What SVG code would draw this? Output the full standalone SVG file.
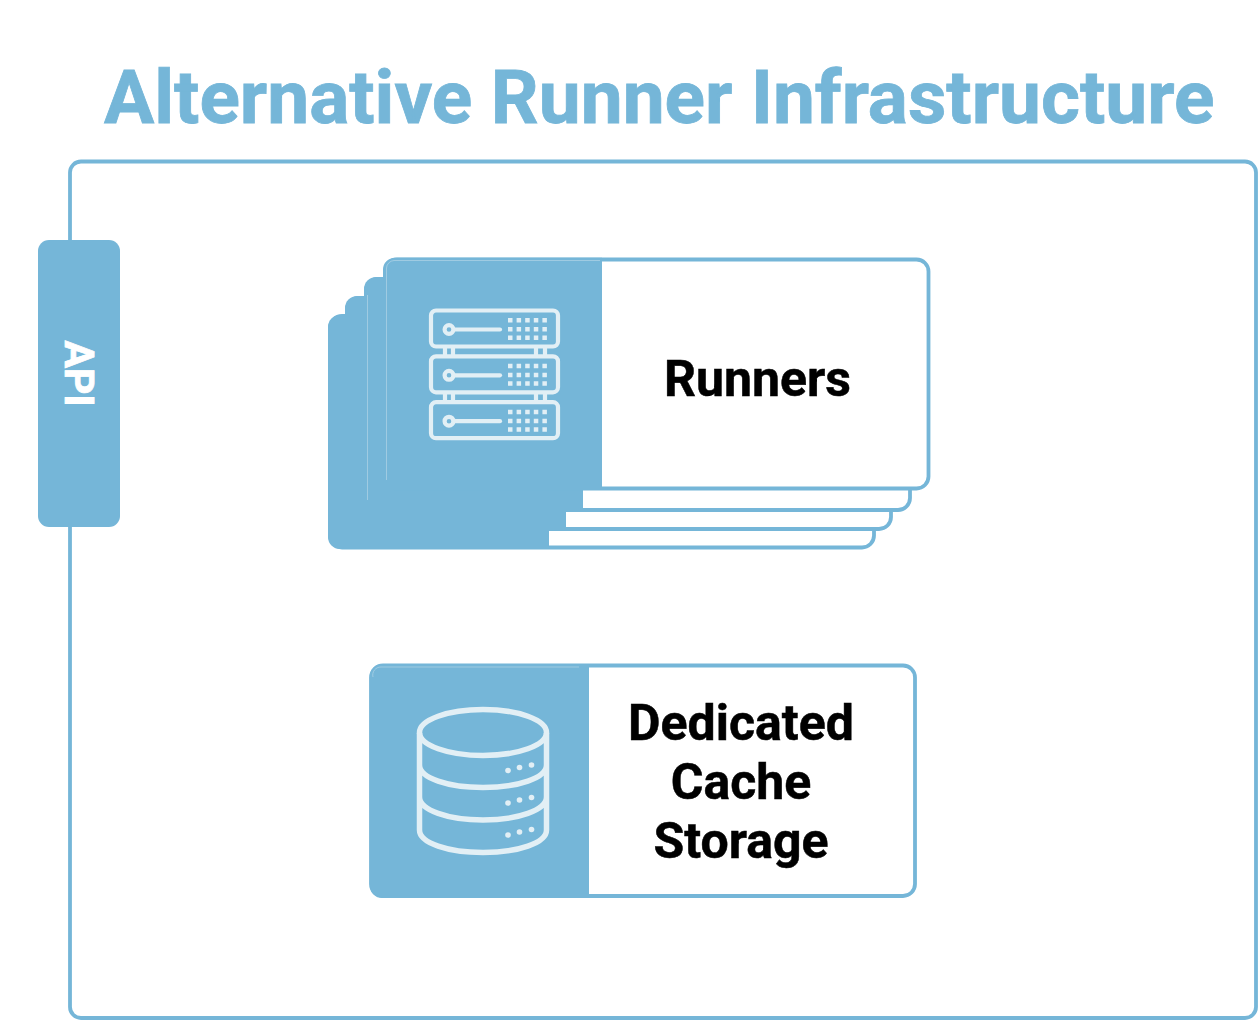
<svg xmlns="http://www.w3.org/2000/svg" width="1258" height="1020" viewBox="0 0 1258 1020">
<style>
.t{font-family:Roboto,"Liberation Sans",sans-serif;font-weight:700}
.lbl{font-size:50px;fill:#000;text-anchor:middle;stroke:#000;stroke-width:.5}
.blue{fill:#75b6d8}
.card{fill:#fff;stroke:#75b6d8;stroke-width:3.8}
.ic{fill:none;stroke:#e2eff5;stroke-width:4.2;stroke-linecap:round}
.icd{fill:none;stroke:#e2eff5;stroke-width:5.500}
.sq{fill:#e2eff5}
</style>
<defs>
<g id="srv">
<rect class="ic" x="431" y="0" width="127" height="36" rx="5"/>
<circle class="ic" cx="449" cy="19" r="4.400"/>
<path class="ic" d="M454 19H500"/>
<path class="sq" d="M508 7.500h4.500v4.500h-4.500zM516.600 7.500h4.500v4.500h-4.500zM525.200 7.500h4.500v4.500h-4.500zM533.800 7.500h4.500v4.500h-4.500zM542.400 7.500h4.500v4.500h-4.500zM508 16.500h4.500v4.500h-4.500zM516.600 16.500h4.500v4.500h-4.500zM525.200 16.500h4.500v4.500h-4.500zM533.800 16.500h4.500v4.500h-4.500zM542.400 16.500h4.500v4.500h-4.500zM508 25h4.500v4.500h-4.500zM516.600 25h4.500v4.500h-4.500zM525.200 25h4.500v4.500h-4.500zM533.800 25h4.500v4.500h-4.500zM542.400 25h4.500v4.500h-4.500z"/>
</g>
</defs>
<text id="title" class="t" x="104" y="123" font-size="74.850" fill="#75b6d8" stroke="#75b6d8" stroke-width=".8">Alternative Runner Infrastructure</text>
<g id="frame"><rect x="70" y="161.500" width="1186" height="856.500" rx="11" fill="#fff" stroke="#75b6d8" stroke-width="3.800"/></g>
<g id="api">
<rect class="blue" x="38" y="240" width="82" height="287" rx="11"/>
<text class="t" transform="translate(65 373.500) rotate(90)" font-size="41" fill="#fff" stroke="#fff" stroke-width=".8" text-anchor="middle">API</text>
</g>
<g id="runners-stack">
<rect class="card" x="330" y="316" width="544" height="231.500" rx="12"/>
<path class="blue" d="M340 315H549V549H340A12 12 0 0 1 328 537V327A12 12 0 0 1 340 315Z"/>
<rect class="card" x="347" y="298" width="544" height="231" rx="12"/>
<path class="blue" d="M357 296H566V531H345V308A12 12 0 0 1 357 296Z"/>
<rect class="card" x="366" y="279" width="544" height="231" rx="12"/>
<path class="blue" d="M376 277H583V512H364V289A12 12 0 0 1 376 277Z"/>
<rect class="card" x="385" y="259.500" width="543.500" height="229" rx="12"/>
<path class="blue" d="M395 257.700H602V490H383V270A12 12 0 0 1 395 257.700Z"/>
<path d="M367.500 500V295M386.500 480V268A8 8 0 0 1 394 260.500H600" fill="none" stroke="#a9d0e5" stroke-width=".8"/>
<use href="#srv" y="310.500"/>
<use href="#srv" y="356.300"/>
<use href="#srv" y="402.200"/>
<path class="ic" d="M445 347V356M453 347V356M536 347V356M545 347V356M445 393V402M453 393V402M536 393V402M545 393V402"/>
<text class="t lbl" x="757.500" y="396">Runners</text>
</g>
<g id="cache">
<rect class="card" x="371" y="665.500" width="544" height="230.500" rx="12"/>
<path class="blue" d="M382 664H589V898H382A12 12 0 0 1 370 886V676A12 12 0 0 1 382 664Z"/>
<path d="M373 677A8 8 0 0 1 381 667H579" fill="none" stroke="#a9d0e5" stroke-width=".8"/>
<ellipse class="icd" cx="483" cy="732.500" rx="63.500" ry="23"/>
<path class="icd" d="M419.500 733V830C419.500 843 448 852.500 483 852.500S546.500 843 546.500 830V733M419.500 765C419.500 778 448 787.500 483 787.500S546.500 778 546.500 765M419.500 797C419.500 810 448 820 483 820S546.500 810 546.500 797"/>
<g class="sq">
<circle cx="508" cy="770.500" r="2.800"/><circle cx="519.500" cy="767.500" r="2.800"/><circle cx="531.500" cy="765" r="2.800"/>
<circle cx="508" cy="803" r="2.800"/><circle cx="519.500" cy="800" r="2.800"/><circle cx="531.500" cy="797.500" r="2.800"/>
<circle cx="508" cy="835" r="2.800"/><circle cx="519.500" cy="832" r="2.800"/><circle cx="531.500" cy="829.500" r="2.800"/>
</g>
<text class="t lbl" x="741" y="740">Dedicated</text>
<text class="t lbl" x="741" y="799">Cache</text>
<text class="t lbl" x="741" y="858">Storage</text>
</g>
<g id="connectors"></g>
</svg>
